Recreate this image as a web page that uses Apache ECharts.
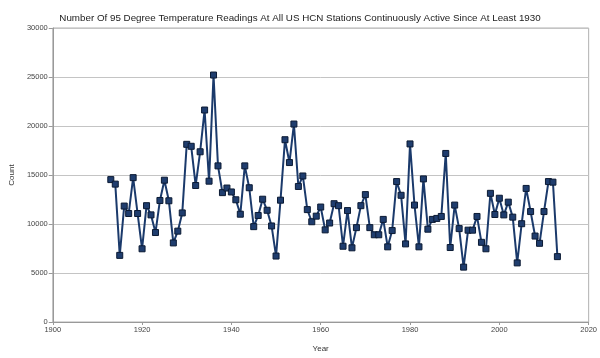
<!DOCTYPE html>
<html>
<head>
<meta charset="utf-8">
<script src="https://cdn.jsdelivr.net/npm/echarts@6/dist/echarts.min.js"></script>
<style>html,body{margin:0;padding:0;background:#fff}#c{width:600px;height:358px}</style>
</head>
<body>
<div id="c"></div>
<script>
var startYear = 1913;
var counts = [
  14530, 14070, 6800, 11830, 11070, 14730, 11070, 7470, 11870, 10930,
  9130, 12400, 14470, 12370, 8070, 9270, 11130, 18130, 17930, 13930,
  17370, 21630, 14370, 25200, 15930, 13200, 13670, 13270, 12470, 11000,
  15930, 13700, 9730, 10870, 12530, 11400, 9800, 6730, 12430, 18600,
  16270, 20200, 13830, 14900, 11470, 10230, 10800, 11730, 9400, 10100,
  12070, 11870, 7730, 11370, 7570, 9630, 11870, 13000, 9630, 8900,
  8900, 10470, 7670, 9330, 14330, 12930, 7970, 18170, 11930, 7670,
  14600, 9470, 10470, 10570, 10770, 17200, 7600, 11930, 9530, 5600,
  9370, 9370, 10770, 8130, 7470, 13130, 10970, 12630, 10930, 12230,
  10700, 6030, 10030, 13630, 11270, 8770, 8030, 11270, 14330, 14270,
  6670
];
var years = counts.map(function(_, i){ return startYear + i; });
var xTicks = [1900, 1920, 1940, 1960, 1980, 2000, 2020];
var yTicks = [0, 5000, 10000, 15000, 20000, 25000, 30000];
var titleText = 'Number Of 95 Degree Temperature Readings At All US HCN Stations Continuously Active Since At Least 1930';

var data = years.map(function(y, i){ return [y, counts[i]]; });
var chart = echarts.init(document.getElementById('c'), null, {renderer: 'canvas'});
var font = 'Liberation Sans, Arial, sans-serif';
chart.setOption({
  animation: false,
  backgroundColor: '#fff',
  title: {
    text: titleText, left: 'center', top: 8,
    textStyle: {fontFamily: font, fontSize: 9.8, fontWeight: 'normal', color: '#222'}
  },
  grid: {left: 49, right: 10, top: 28, bottom: 30, show: true, borderColor: '#b0b0b0', borderWidth: 1},
  xAxis: {
    type: 'value', min: xTicks[0], max: xTicks[xTicks.length-1], interval: 20,
    name: 'Year', nameLocation: 'middle', nameGap: 23,
    nameTextStyle: {fontFamily: font, fontSize: 8, color: '#333'},
    axisLine: {show: true, lineStyle: {color: '#999'}},
    axisTick: {show: true, length: 3, lineStyle: {color: '#999'}},
    axisLabel: {fontFamily: font, fontSize: 7.5, color: '#444', margin: 4, formatter: function(v){ return String(v); }},
    splitLine: {show: false}
  },
  yAxis: {
    type: 'value', min: yTicks[0], max: yTicks[yTicks.length-1], interval: 5000,
    name: 'Count', nameLocation: 'middle', nameGap: 34,
    nameTextStyle: {fontFamily: font, fontSize: 8, color: '#333'},
    axisLine: {show: true, lineStyle: {color: '#999'}},
    axisTick: {show: true, length: 4, lineStyle: {color: '#999'}},
    axisLabel: {fontFamily: font, fontSize: 7.5, color: '#444', margin: 5, formatter: function(v){ return String(v); }},
    splitLine: {show: true, lineStyle: {color: '#c4c4c4', width: 1}}
  },
  series: [{
    type: 'line', data: data,
    symbol: 'rect', symbolSize: 6,
    lineStyle: {color: '#1b3a6b', width: 2},
    itemStyle: {color: '#1f3d6e', borderColor: '#0b1a33', borderWidth: 1},
    z: 3
  }]
});
</script>
</body>
</html>
